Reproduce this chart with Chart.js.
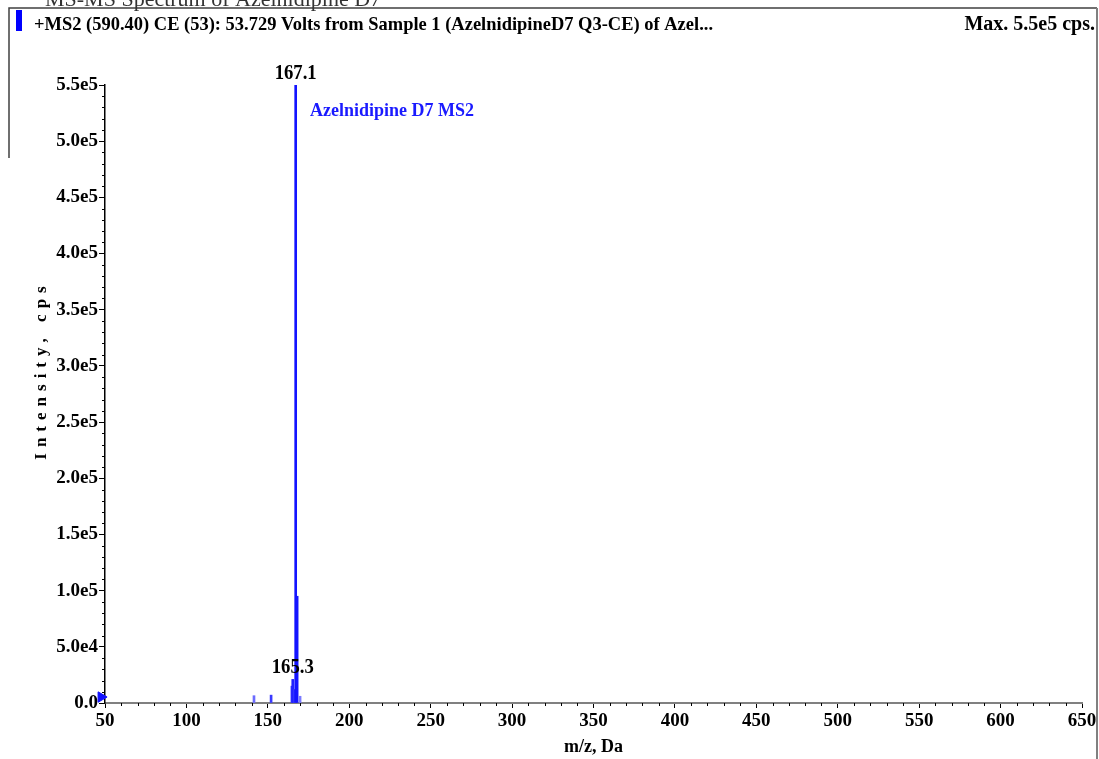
<!DOCTYPE html>
<html>
<head>
<meta charset="utf-8">
<script src="https://cdn.jsdelivr.net/npm/chart.js@4"></script>
<style>
  html, body { margin: 0; padding: 0; background: #fff; }
  #wrap { width: 1099px; height: 759px; position: relative; }
</style>
</head>
<body>
<div id="wrap"><canvas id="spectrum"></canvas></div>
<script>
// peak list
const mzValues = [141.5, 152.0, 164.8, 165.3, 166.2, 167.1, 168.0, 169.8];
const intensities = [6500, 7000, 15000, 21000, 12000, 550000, 95000, 6000];
const peakColors = ["#6b6bff", "#3a3aff", "#3030ff", "#2020ff", "#3030ff", "#1414ff", "#1414ff", "#7a7aff"];
const labelledPeaks = ["167.1", "165.3"];
const markerPoint = [{ x: 47.6, y: 5300 }];
const xTicks = [50, 100, 150, 200, 250, 300, 350, 400, 450, 500, 550, 600, 650];
const yTicks = [0, 50000, 100000, 150000, 200000, 250000, 300000, 350000, 400000, 450000, 500000, 550000];

const serif = "'Liberation Serif', 'Times New Roman', serif";

const overlay = {
  id: "overlay",
  afterDraw(chart) {
    const ctx = chart.ctx;
    const x = chart.scales.x, y = chart.scales.y;
    ctx.save();

    // minor ticks
    ctx.strokeStyle = "#000";
    ctx.lineWidth = 1;
    for (let v = x.min; v <= x.max; v += 10) {
      if (v % 50 === 0) continue;
      const px = Math.round(x.getPixelForValue(v)) + 0.5;
      ctx.beginPath(); ctx.moveTo(px, y.bottom); ctx.lineTo(px, y.bottom + 3); ctx.stroke();
    }
    for (let v = y.min; v <= y.max; v += 10000) {
      if (v % 50000 === 0) continue;
      const py = Math.round(y.getPixelForValue(v)) + 0.5;
      ctx.beginPath(); ctx.moveTo(x.left - 3, py); ctx.lineTo(x.left, py); ctx.stroke();
    }

    // frame
    ctx.strokeStyle = "#404040";
    ctx.lineWidth = 1.5;
    ctx.beginPath();
    ctx.moveTo(9, 158); ctx.lineTo(9, 8); ctx.lineTo(1097, 8);
    ctx.stroke();
    ctx.strokeStyle = "#808080";
    ctx.lineWidth = 2;
    ctx.beginPath(); ctx.moveTo(1097, 8); ctx.lineTo(1097, 759); ctx.stroke();

    // cut-off title
    ctx.fillStyle = "#333";
    ctx.font = "22px " + serif;
    ctx.textAlign = "left";
    ctx.textBaseline = "alphabetic";
    ctx.fillText("MS-MS Spectrum of Azelnidipine D7", 45, 6);

    // header
    ctx.fillStyle = "#0000ff";
    ctx.fillRect(16, 10, 6, 21);
    ctx.fillStyle = "#000";
    ctx.font = "bold 19px " + serif;
    ctx.fillText("+MS2 (590.40) CE (53): 53.729 Volts from Sample 1 (AzelnidipineD7 Q3-CE) of Azel...", 34, 30, 679);
    ctx.textAlign = "right";
    ctx.font = "bold 20px " + serif;
    ctx.fillText("Max. 5.5e5 cps.", 1095, 30, 138);

    // peak labels
    ctx.textAlign = "center";
    ctx.font = "bold 20px " + serif;
    labelledPeaks.forEach(lbl => {
      const i = mzValues.indexOf(parseFloat(lbl));
      const px = x.getPixelForValue(mzValues[i]);
      const py = y.getPixelForValue(intensities[i]);
      ctx.fillText(lbl, px, py - 6, 42);
    });

    // series label
    ctx.fillStyle = "#1a1aff";
    ctx.textAlign = "left";
    ctx.font = "bold 18px " + serif;
    ctx.fillText("Azelnidipine D7 MS2", 310, 116, 170);

    // axis titles
    ctx.fillStyle = "#000";
    ctx.textAlign = "center";
    ctx.font = "bold 18px " + serif;
    ctx.fillText("m/z, Da", (x.left + x.right) / 2, 752, 62);

    ctx.translate(46, 370);
    ctx.rotate(-Math.PI / 2);
    ctx.font = "bold 17px " + serif;
    ctx.letterSpacing = "6px";
    ctx.fillText("Intensity, cps", 0, 0);
    ctx.restore();
  }
};

new Chart(document.getElementById("spectrum"), {
  type: "bar",
  data: {
    datasets: [
      {
        label: "Azelnidipine D7 MS2",
        data: mzValues.map((m, i) => ({ x: m, y: intensities[i] })),
        backgroundColor: peakColors,
        borderWidth: 0,
        barThickness: 2,
        grouped: false
      },
      {
        type: "scatter",
        label: "marker",
        data: markerPoint,
        pointStyle: "triangle",
        rotation: 90,
        radius: 6,
        backgroundColor: "#1010ff",
        borderColor: "#1010ff",
        clip: false
      }
    ]
  },
  options: {
    responsive: true,
    maintainAspectRatio: false,
    animation: false,
    layout: { padding: { top: 85, right: 17, left: 0, bottom: 0 } },
    plugins: {
      legend: { display: false },
      tooltip: { enabled: false }
    },
    scales: {
      x: {
        type: "linear",
        min: 50,
        max: 650,
        offset: false,
        afterBuildTicks: s => { s.ticks = xTicks.map(v => ({ value: v })); },
        afterFit: s => { s.height = 56; },
        ticks: {
          color: "#000",
          font: { family: serif, size: 19, weight: "bold" },
          padding: 2,
          maxRotation: 0
        },
        grid: { display: true, offset: false, drawOnChartArea: false, drawTicks: true, tickLength: 5, color: "#000" },
        border: { color: "#808080", width: 2 }
      },
      y: {
        min: 0,
        max: 550000,
        afterBuildTicks: s => { s.ticks = yTicks.map(v => ({ value: v })); },
        afterFit: s => { s.width = 105; },
        ticks: {
          color: "#000",
          font: { family: serif, size: 19, weight: "bold" },
          padding: 1,
          callback: v => v === 0 ? "0.0" : v.toExponential(1).replace("+", "")
        },
        grid: { display: true, drawOnChartArea: false, drawTicks: true, tickLength: 6, color: "#000" },
        border: { color: "#000", width: 1.5 }
      }
    }
  },
  plugins: [overlay]
});
</script>
</body>
</html>
